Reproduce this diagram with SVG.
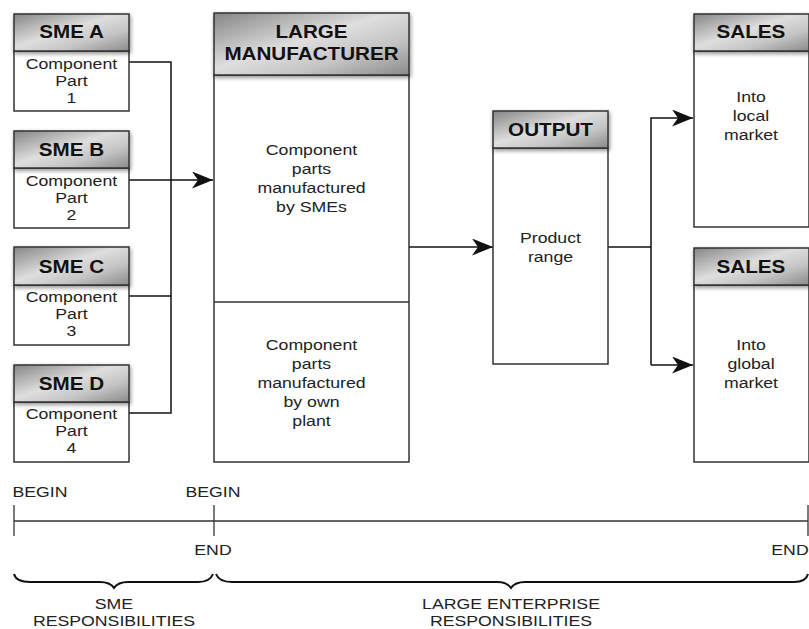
<svg xmlns="http://www.w3.org/2000/svg" width="809" height="629" viewBox="0 0 809 629">
  <defs>
    <linearGradient id="metal" x1="0" y1="0" x2="1" y2="1">
      <stop offset="0" stop-color="#858585"/>
      <stop offset="0.45" stop-color="#dedede"/>
      <stop offset="0.7" stop-color="#c4c4c4"/>
      <stop offset="1" stop-color="#8a8a8a"/>
    </linearGradient>
    <filter id="shadow" x="-10%" y="-20%" width="120%" height="150%">
      <feGaussianBlur in="SourceAlpha" stdDeviation="2"/>
      <feOffset dx="1" dy="2" result="b"/>
      <feComponentTransfer><feFuncA type="linear" slope="0.45"/></feComponentTransfer>
      <feMerge><feMergeNode/><feMergeNode in="SourceGraphic"/></feMerge>
    </filter>
    <marker id="arrow" viewBox="0 0 21 17" refX="21" refY="8.5" markerWidth="21" markerHeight="17" markerUnits="userSpaceOnUse" orient="auto">
      <path d="M0,0 L21,8.5 L0,17 L6,8.5 Z" fill="#111"/>
    </marker>
  </defs>
  <style>
    .box { fill: #fff; stroke: #333; stroke-width: 1.5; }
    .head { fill: url(#metal); stroke: #333; stroke-width: 1.5; filter: url(#shadow); }
    .ht { font-family: "Liberation Sans", Arial, sans-serif; font-weight: bold; font-size: 17.5px; fill: #111; text-anchor: middle; }
    .bt { font-family: "Liberation Sans", Arial, sans-serif; font-size: 15px; fill: #222; text-anchor: middle; }
    .wire { fill: none; stroke: #111; stroke-width: 1.5; }
    .axis { fill: none; stroke: #333; stroke-width: 1.3; }
    .brace { fill: none; stroke: #111; stroke-width: 2; }
  </style>

  <rect width="809" height="629" fill="#fff"/>

  <!-- connectors -->
  <g id="connectors">
    <path class="wire" d="M129,62 H171 V413 H129"/>
    <path class="wire" d="M129,296 H171"/>
    <path class="wire" d="M129,180 H213" marker-end="url(#arrow)"/>
    <path class="wire" d="M408,247 H493" marker-end="url(#arrow)"/>
    <path class="wire" d="M608,247 H651"/>
    <path class="wire" d="M651,365 V118 H693" marker-end="url(#arrow)"/>
    <path class="wire" d="M651,365 H693" marker-end="url(#arrow)"/>
  </g>

  <!-- SME suppliers (labels widened 1.18x about the box centre) -->
  <g id="sme-a">
    <rect class="box" x="14" y="51" width="115" height="60"/>
    <rect class="head" x="14" y="14" width="115" height="37"/>
    <g transform="matrix(1.18,0,0,1,-12.87,0)">
      <text class="ht" x="71.5" y="38">SME A</text>
      <text class="bt" x="71.5" y="69">Component</text>
      <text class="bt" x="71.5" y="86">Part</text>
      <text class="bt" x="71.5" y="103">1</text>
    </g>
  </g>
  <g id="sme-b">
    <rect class="box" x="14" y="168" width="115" height="60"/>
    <rect class="head" x="14" y="131" width="115" height="37"/>
    <g transform="matrix(1.18,0,0,1,-12.87,0)">
      <text class="ht" x="71.5" y="156">SME B</text>
      <text class="bt" x="71.5" y="186">Component</text>
      <text class="bt" x="71.5" y="203">Part</text>
      <text class="bt" x="71.5" y="220">2</text>
    </g>
  </g>
  <g id="sme-c">
    <rect class="box" x="14" y="285" width="115" height="60"/>
    <rect class="head" x="14" y="247" width="115" height="38"/>
    <g transform="matrix(1.18,0,0,1,-12.87,0)">
      <text class="ht" x="71.5" y="273">SME C</text>
      <text class="bt" x="71.5" y="302">Component</text>
      <text class="bt" x="71.5" y="319">Part</text>
      <text class="bt" x="71.5" y="336">3</text>
    </g>
  </g>
  <g id="sme-d">
    <rect class="box" x="14" y="402" width="115" height="60"/>
    <rect class="head" x="14" y="365" width="115" height="37"/>
    <g transform="matrix(1.18,0,0,1,-12.87,0)">
      <text class="ht" x="71.5" y="390">SME D</text>
      <text class="bt" x="71.5" y="419">Component</text>
      <text class="bt" x="71.5" y="436">Part</text>
      <text class="bt" x="71.5" y="453">4</text>
    </g>
  </g>

  <!-- large manufacturer -->
  <g id="large-manufacturer">
    <rect class="box" x="214" y="75" width="195" height="387"/>
    <line x1="214" y1="302" x2="409" y2="302" stroke="#333" stroke-width="1.3"/>
    <rect class="head" x="214" y="13" width="195" height="62"/>
    <g transform="matrix(1.18,0,0,1,-56.07,0)">
      <text class="ht" x="311.5" y="38">LARGE</text>
      <text class="ht" x="311.5" y="60">MANUFACTURER</text>
      <text class="bt" x="311.5" y="155">Component</text>
      <text class="bt" x="311.5" y="174">parts</text>
      <text class="bt" x="311.5" y="193">manufactured</text>
      <text class="bt" x="311.5" y="212">by SMEs</text>
      <text class="bt" x="311.5" y="350">Component</text>
      <text class="bt" x="311.5" y="369">parts</text>
      <text class="bt" x="311.5" y="388">manufactured</text>
      <text class="bt" x="311.5" y="407">by own</text>
      <text class="bt" x="311.5" y="426">plant</text>
    </g>
  </g>

  <!-- output -->
  <g id="output">
    <rect class="box" x="493" y="148" width="115" height="216"/>
    <rect class="head" x="493" y="111" width="115" height="37"/>
    <g transform="matrix(1.18,0,0,1,-99.09,0)">
      <text class="ht" x="550.5" y="136">OUTPUT</text>
      <text class="bt" x="550.5" y="243">Product</text>
      <text class="bt" x="550.5" y="262">range</text>
    </g>
  </g>

  <!-- sales -->
  <g id="sales-local">
    <rect class="box" x="694" y="51" width="115" height="176"/>
    <rect class="head" x="694" y="14" width="115" height="37"/>
    <g transform="matrix(1.18,0,0,1,-135.18,0)">
      <text class="ht" x="751" y="38">SALES</text>
      <text class="bt" x="751" y="102">Into</text>
      <text class="bt" x="751" y="121">local</text>
      <text class="bt" x="751" y="140">market</text>
    </g>
  </g>
  <g id="sales-global">
    <rect class="box" x="694" y="285" width="115" height="177"/>
    <rect class="head" x="694" y="248" width="115" height="37"/>
    <g transform="matrix(1.18,0,0,1,-135.18,0)">
      <text class="ht" x="751" y="273">SALES</text>
      <text class="bt" x="751" y="350">Into</text>
      <text class="bt" x="751" y="369">global</text>
      <text class="bt" x="751" y="388">market</text>
    </g>
  </g>

  <!-- timeline -->
  <g id="timeline">
    <line class="axis" x1="14" y1="521" x2="808" y2="521"/>
    <line class="axis" x1="14" y1="505" x2="14" y2="536"/>
    <line class="axis" x1="214" y1="505" x2="214" y2="536"/>
    <line class="axis" x1="808" y1="505" x2="808" y2="536"/>
    <text class="bt" transform="matrix(1.18,0,0,1,-7.2,0)" x="40" y="497">BEGIN</text>
    <text class="bt" transform="matrix(1.18,0,0,1,-38.34,0)" x="213" y="497">BEGIN</text>
    <text class="bt" transform="matrix(1.18,0,0,1,-38.34,0)" x="213" y="555">END</text>
    <text class="bt" transform="matrix(1.18,0,0,1,-142.2,0)" x="790" y="555">END</text>
  </g>

  <!-- responsibility braces -->
  <g id="braces">
    <path class="brace" d="M14,574 Q16,582 30,582 H100 Q110,582 114,588 Q118,582 128,582 H198 Q210,582 213,574"/>
    <path class="brace" d="M216,574 Q219,582 232,582 H497 Q507,582 511,588 Q515,582 525,582 H794 Q806,582 808,574"/>
    <g transform="matrix(1.18,0,0,1,-20.52,0)">
      <text class="bt" x="114" y="609">SME</text>
      <text class="bt" x="114" y="626">RESPONSIBILITIES</text>
    </g>
    <g transform="matrix(1.18,0,0,1,-91.98,0)">
      <text class="bt" x="511" y="609">LARGE ENTERPRISE</text>
      <text class="bt" x="511" y="626">RESPONSIBILITIES</text>
    </g>
  </g>
</svg>
